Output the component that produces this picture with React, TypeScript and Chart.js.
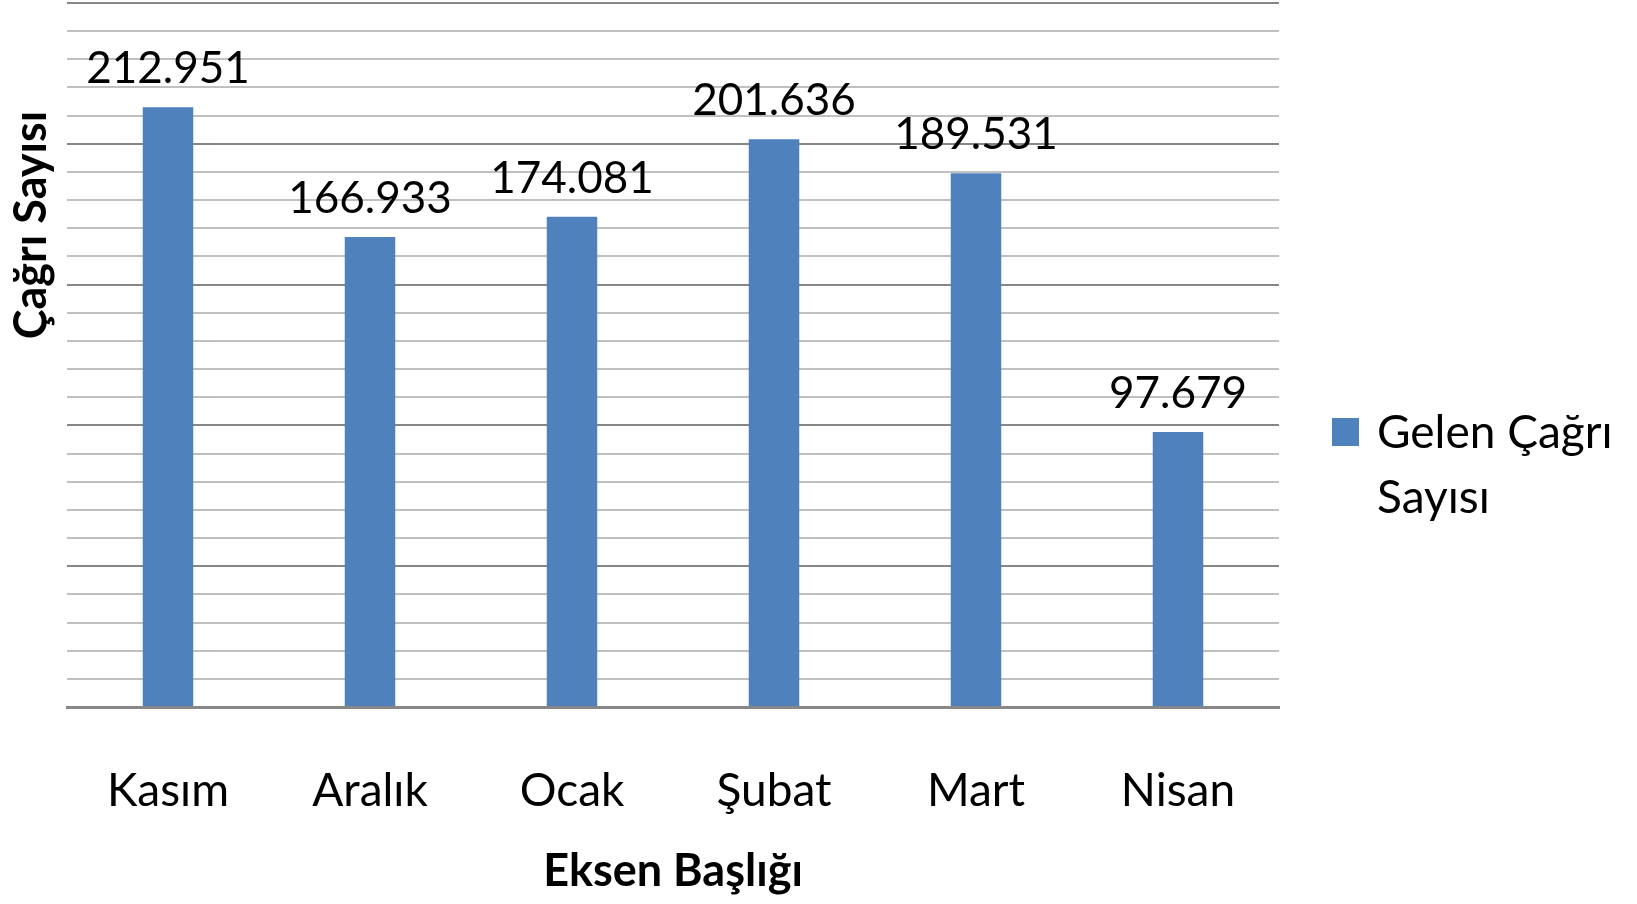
import React, { useEffect, useRef } from "react";
import { Chart, registerables } from "chart.js";

Chart.register(...registerables);

const categories = ["Kasım", "Aralık", "Ocak", "Şubat", "Mart", "Nisan"];
const callCounts = [212951, 166933, 174081, 201636, 189531, 97679];
const seriesName = ["Gelen Çağrı", "Sayısı"];
const yTitle = "Çağrı Sayısı";
const xTitle = "Eksen Başlığı";
const yMax = 250000;
const minorStep = 10000;
const majorStep = 50000;

const FONT = "Lato, 'Open Sans', sans-serif";
const BAR_COLOR = "#4F81BD";

const fmt = (v: number) => String(v).replace(/\B(?=(\d{3})+(?!\d))/g, ".");

const overlayPlugin = {
  id: "overlay",
  afterDatasetsDraw(chart: any) {
    const ctx = chart.ctx;
    const meta = chart.getDatasetMeta(0);
    ctx.save();
    ctx.fillStyle = "#000";
    ctx.font = `44px ${FONT}`;
    ctx.textAlign = "center";
    ctx.textBaseline = "alphabetic";
    meta.data.forEach((bar: any, i: number) => {
      ctx.fillText(fmt(callCounts[i]), bar.x, bar.y - 24);
    });
    ctx.restore();
  },
  afterDraw(chart: any) {
    const ctx = chart.ctx;
    const area = chart.chartArea;
    ctx.save();
    // y axis title
    ctx.fillStyle = "#000";
    ctx.font = `bold 45px ${FONT}`;
    ctx.textAlign = "center";
    ctx.textBaseline = "alphabetic";
    ctx.translate(46, 225);
    ctx.rotate(-Math.PI / 2);
    ctx.fillText(yTitle, 0, 0);
    ctx.restore();

    // legend
    ctx.save();
    const lx = area.right + 53;
    ctx.fillStyle = BAR_COLOR;
    ctx.fillRect(lx, 418, 27, 28);
    ctx.fillStyle = "#000";
    ctx.font = `46px ${FONT}`;
    ctx.textAlign = "left";
    ctx.textBaseline = "alphabetic";
    seriesName.forEach((line, i) => {
      ctx.fillText(line, lx + 45, 448 + i * 65);
    });
    ctx.restore();
  },
};

export default function App() {
  const canvasRef = useRef<HTMLCanvasElement | null>(null);

  useEffect(() => {
    if (!canvasRef.current) return;
    const chart = new Chart(canvasRef.current, {
      type: "bar",
      data: {
        labels: categories,
        datasets: [
          {
            label: seriesName.join(" "),
            data: callCounts,
            backgroundColor: BAR_COLOR,
            borderWidth: 0,
            barPercentage: 0.25,
            categoryPercentage: 1,
          },
        ],
      },
      options: {
        animation: false,
        responsive: true,
        maintainAspectRatio: false,
        layout: { padding: { left: 67, right: 358, top: 3, bottom: 0 } },
        plugins: {
          legend: { display: false },
          tooltip: { enabled: false },
          title: { display: false },
        },
        scales: {
          x: {
            z: 1,
            grid: { display: false, drawTicks: false },
            border: { display: true, color: "#878787", width: 3 },
            ticks: {
              color: "#000",
              font: { family: FONT, size: 46 },
              padding: 57,
              maxRotation: 0,
              autoSkip: false,
            },
            title: {
              display: true,
              text: xTitle,
              color: "#000",
              font: { family: FONT, size: 45, weight: "bold" },
              padding: { top: 0, bottom: 6 },
            },
            afterFit(scale: any) {
              scale.height = 197;
            },
          },
          y: {
            min: 0,
            max: yMax,
            ticks: { display: false, stepSize: minorStep },
            border: { display: false },
            grid: {
              drawTicks: false,
              lineWidth: 2,
              color: (c: any) =>
                c.tick && c.tick.value % majorStep === 0 ? "#868686" : "#c0c0c0",
            },
          },
        },
      },
      plugins: [overlayPlugin],
    });
    return () => chart.destroy();
  }, []);

  return (
    <div style={{ position: "fixed", left: 0, top: 0, width: 1637, height: 904, background: "#fff" }}>
      <canvas ref={canvasRef} />
    </div>
  );
}
